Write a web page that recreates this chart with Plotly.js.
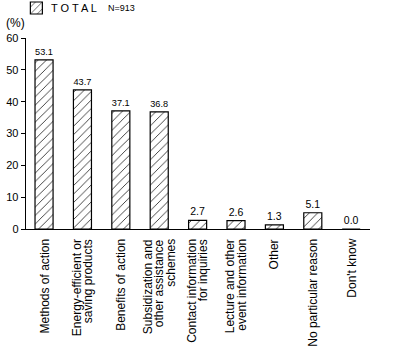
<!DOCTYPE html>
<html>
<head>
<meta charset="utf-8">
<script src="https://cdn.plot.ly/plotly-3.0.1.min.js"></script>
<style>html,body{margin:0;padding:0;background:#fff;}#chart{width:400px;height:358px;}</style>
</head>
<body>
<div id="chart"></div>
<script>
const categories = [
  ["Methods of action"],
  ["Energy-efficient or", "saving products"],
  ["Benefits of action"],
  ["Subsidization and", "other assistance", "schemes"],
  ["Contact information", "for inquiries"],
  ["Lecture and other", "event information"],
  ["Other"],
  ["No particular reason"],
  ["Don't know"]
];
const values = [53.1, 43.7, 37.1, 36.8, 2.7, 2.6, 1.3, 5.1, 0.0];
const valueLabels = values.map(v => v.toFixed(1));
const seriesName = "T O T A L";
const sampleNote = "N=913";
const unitLabel = "(%)";

const catKeys = categories.map(c => c.join(" "));

const trace = {
  type: "bar",
  x: catKeys,
  y: values,
  name: " ",
  text: valueLabels,
  textposition: "outside",
  cliponaxis: false,
  textfont: {family: "Liberation Sans, Arial, sans-serif", size: 10.5, color: "#000"},
  width: 0.47,
  marker: {
    color: "#fff",
    line: {color: "#000", width: 1.2},
    pattern: {shape: "/", fgcolor: "#000", bgcolor: "#fff", size: 6, solidity: 0.12}
  },
  hoverinfo: "none"
};

const annotations = [
  {text: unitLabel, xref: "paper", yref: "paper", x: 0, xshift: -22, y: 1.0, yshift: 15,
   xanchor: "left", yanchor: "middle", showarrow: false, font: {size: 12}},
  {text: seriesName, xref: "paper", yref: "paper", x: 0.066, y: 1.0, yshift: 30,
   xanchor: "left", yanchor: "middle", showarrow: false, font: {size: 11}},
  {text: sampleNote, xref: "paper", yref: "paper", x: 0.232, y: 1.0, yshift: 30,
   xanchor: "left", yanchor: "middle", showarrow: false, font: {size: 9}}
];
categories.forEach((lines, i) => {
  const n = lines.length;
  lines.forEach((line, j) => {
    annotations.push({
      text: line, x: catKeys[i], xref: "x", y: 0, yref: "paper",
      xshift: (j - (n - 1) / 2) * 11.5, yshift: -8,
      textangle: -90, xanchor: "center", yanchor: "top",
      showarrow: false, font: {size: 12, color: "#000"}
    });
  });
});

const layout = {
  width: 400, height: 358,
  margin: {l: 26, r: 30, t: 38, b: 129, autoexpand: false},
  paper_bgcolor: "#fff", plot_bgcolor: "#fff",
  font: {family: "Liberation Sans, Arial, sans-serif", size: 10, color: "#000"},
  showlegend: true,
  legend: {
    x: -0.028, y: 1 + 30 / 191, yanchor: "middle", xanchor: "left",
    orientation: "h",
    font: {size: 10, color: "#000"},
    bgcolor: "rgba(0,0,0,0)"
  },
  xaxis: {
    range: [-0.47, 8.49],
    showline: true, linecolor: "#000", linewidth: 1.3,
    ticks: "", showticklabels: false,
    showgrid: false, zeroline: false,
    fixedrange: true
  },
  yaxis: {
    range: [0, 60],
    dtick: 10,
    showline: true, linecolor: "#000", linewidth: 1.3,
    ticks: "outside", ticklen: 4, tickwidth: 1, tickcolor: "#000",
    tickfont: {size: 11, color: "#000"},
    showgrid: false, zeroline: false,
    fixedrange: true
  },
  annotations: annotations
};

Plotly.newPlot("chart", [trace], layout, {displayModeBar: false, staticPlot: true});
</script>
</body>
</html>
